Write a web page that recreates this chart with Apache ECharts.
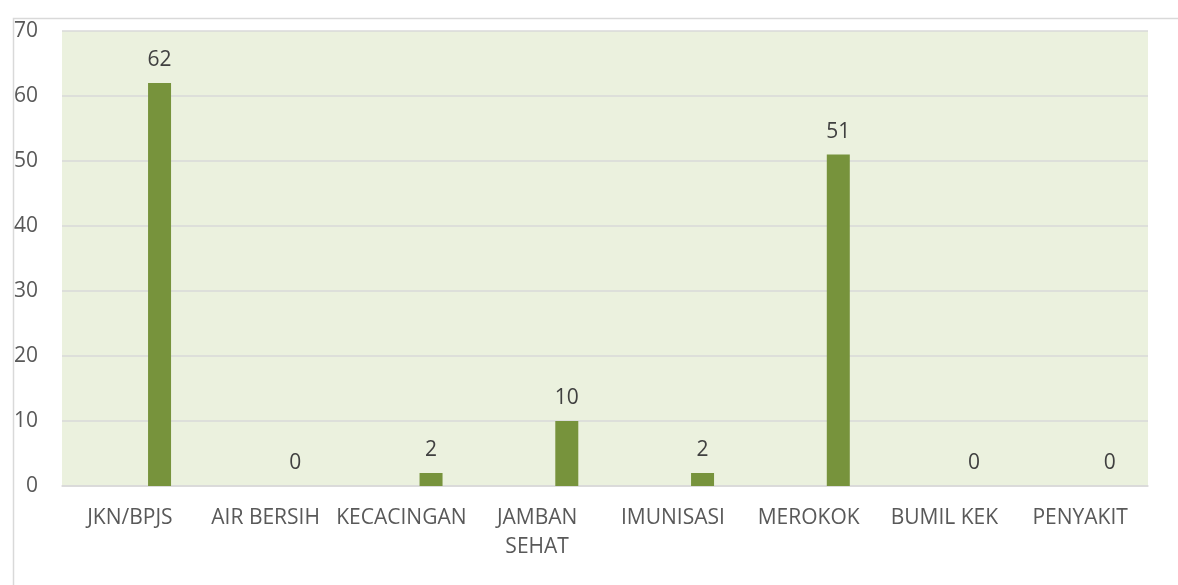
<!DOCTYPE html>
<html>
<head>
<meta charset="utf-8">
<script src="https://cdn.jsdelivr.net/npm/echarts@6/dist/echarts.min.js"></script>
<style>
  html, body { margin: 0; padding: 0; background: #ffffff; }
  #chart { width: 1178px; height: 585px; }
</style>
</head>
<body>
<div id="chart"></div>
<script>
// Categories of health indicators and their counts
const categories = ['JKN/BPJS', 'AIR BERSIH', 'KECACINGAN', 'JAMBAN\nSEHAT', 'IMUNISASI', 'MEROKOK', 'BUMIL KEK', 'PENYAKIT'];
const counts = [62, 0, 2, 10, 2, 51, 0, 0];
// Empty companion series that reserves the left slot of each category
const placeholder = [null, null, null, null, null, null, null, null];
const yTicks = { min: 0, max: 70, interval: 10 };

const FONT = '"Open Sans", "Noto Sans", sans-serif';
const chart = echarts.init(document.getElementById('chart'), null, { renderer: 'canvas' });

chart.setOption({
  animation: false,
  backgroundColor: '#ffffff',
  textStyle: { fontFamily: FONT },
  graphic: [{
    type: 'rect',
    left: 11, top: 16,
    shape: { width: 1200, height: 600 },
    style: { fill: 'none', stroke: '#d9d9d9', lineWidth: 1.5 },
    silent: true,
    z: -10
  }],
  grid: {
    left: 62, right: 30, top: 31, bottom: 99,
    show: true,
    backgroundColor: '#EBF1DE',
    borderWidth: 0
  },
  xAxis: {
    type: 'category',
    data: categories,
    axisTick: { show: false },
    axisLine: { show: true, lineStyle: { color: '#d9d9d9', width: 1.5 } },
    axisLabel: {
      interval: 0,
      margin: 18,
      color: '#595959',
      fontSize: 21,
      lineHeight: 29,
      fontFamily: FONT
    }
  },
  yAxis: {
    type: 'value',
    min: yTicks.min, max: yTicks.max, interval: yTicks.interval,
    axisLine: { show: false },
    axisTick: { show: false },
    splitLine: { lineStyle: { color: '#d9d9d9', width: 1.5 } },
    axisLabel: { color: '#595959', fontSize: 21, margin: 24, fontFamily: FONT }
  },
  series: [
    {
      type: 'bar',
      data: placeholder,
      barWidth: 23,
      barGap: '158%',
      itemStyle: { color: '#4F81BD' }
    },
    {
      type: 'bar',
      data: counts,
      barWidth: 23,
      itemStyle: { color: '#77933C' },
      label: {
        show: true,
        position: 'top',
        distance: 12,
        color: '#404040',
        fontSize: 21,
        fontFamily: FONT
      }
    }
  ]
});
</script>
</body>
</html>
